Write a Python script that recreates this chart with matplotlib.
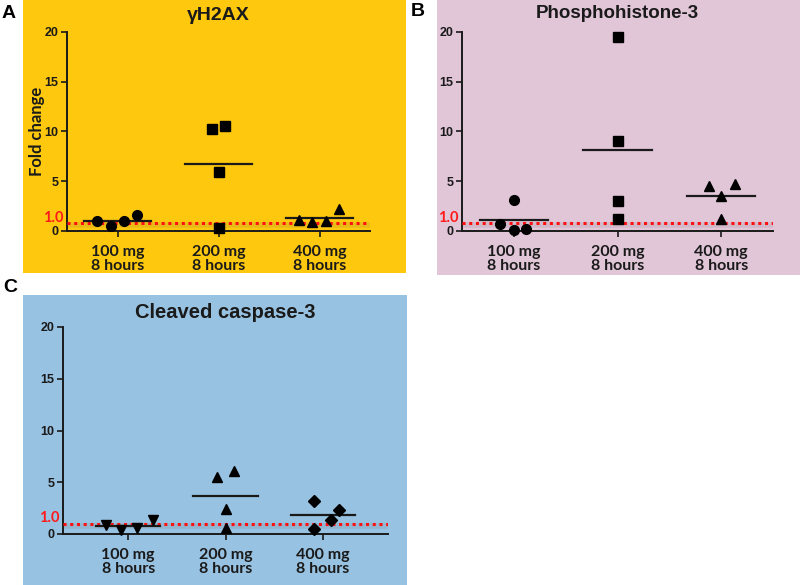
import matplotlib
matplotlib.use("Agg")
import matplotlib.pyplot as plt
from matplotlib.patches import Rectangle
import numpy as np

# ---------------- data ----------------
categories = ["100 mg\n8 hours", "200 mg\n8 hours", "400 mg\n8 hours"]
yticks = [0, 5, 10, 15, 20]

titles = ["γH2AX", "Phosphohistone-3", "Cleaved caspase-3"]
panel_letters = ["A", "B", "C"]

a_100 = [1.0, 0.5, 1.0, 1.6]
a_200 = [10.3, 10.55, 5.9, 0.35]
a_400 = [1.15, 0.95, 1.05, 2.2]

b_100 = [0.74, 3.15, 0.1, 0.25]
b_200 = [19.5, 9.0, 3.0, 1.25]
b_400 = [4.5, 3.5, 4.75, 1.25]

c_100 = [0.85, 0.35, 0.6, 1.4]
c_200 = [5.5, 6.1, 2.4, 0.6]
c_400 = [3.15, 1.38, 2.31, 0.48]

ref_label = "1.0"
ref_level = [0.85, 0.85, 1.0]

# horizontal jitter of the points (layout)
a_off = [[-0.2, -0.067, 0.06, 0.19], [-0.066, 0.066, 0, 0], [-0.2, -0.07, 0.063, 0.19]]
b_off = [[-0.135, 0, 0, 0.12], [0, 0, 0, 0], [-0.12, 0, 0.13, 0]]
c_off = [[-0.23, -0.07, 0.09, 0.26], [-0.09, 0.085, 0, 0], [-0.09, 0.085, 0.17, -0.09]]

# ---------------- style ----------------
W, H = 800, 585
fig = plt.figure(figsize=(8, 5.85), dpi=100)

bg_colors = ["#FEC80E", "#E1C6D8", "#98C2E1"]
bg_px = [(23, 0, 406, 273), (437, 0, 800, 275), (23, 295, 407, 585)]
ax_px = [(67, 32, 370, 231), (462, 32, 773, 231), (63, 327, 388, 534)]
xlims = [(-0.5, 2.5), (-0.5, 2.5), (-0.67, 2.67)]
markers = [["o", "s", "^"], ["o", "s", "^"], ["v", "^", "D"]]
msizes = {"o": 7, "s": 6.8, "^": 7.8, "v": 7.8, "D": 6.2}
letter_px = [(2, 14), (411, 12), (3, 287)]
title_y_px = [15, 13, 313]
title_sizes = [14, 13.5, 14.5]

panel_data = [[a_100, a_200, a_400], [b_100, b_200, b_400], [c_100, c_200, c_400]]
panel_off = [a_off, b_off, c_off]

dark = "#1a1a1a"
arial = ["Liberation Sans", "DejaVu Sans"]
cal = ["Lato", "DejaVu Sans"]

for i in range(3):
    x0, y0, x1, y1 = bg_px[i]
    fig.add_artist(Rectangle((x0 / W, 1 - y1 / H), (x1 - x0) / W, (y1 - y0) / H,
                             transform=fig.transFigure, facecolor=bg_colors[i],
                             edgecolor="none", zorder=0))
    l, t, r, b = ax_px[i]
    ax = fig.add_axes([l / W, 1 - b / H, (r - l) / W, (b - t) / H])
    ax.set_facecolor("none")
    ax.set_xlim(*xlims[i])
    ax.set_ylim(0, 20)
    for s in ["top", "right"]:
        ax.spines[s].set_visible(False)
    for s in ["left", "bottom"]:
        ax.spines[s].set_color(dark)
        ax.spines[s].set_linewidth(1.4)
    ax.set_yticks(yticks)
    ax.set_yticklabels([str(v) for v in yticks], fontfamily=arial,
                       fontweight="bold", fontsize=9, color=dark)
    ax.set_xticks(range(len(categories)))
    ax.set_xticklabels(categories, fontfamily=cal, fontweight="bold",
                       fontsize=11.5, color=dark, linespacing=1.0)
    ax.tick_params(axis="y", direction="out", length=4, width=1.2, color=dark, pad=2)
    ax.tick_params(axis="x", direction="out", length=4, width=1.2, color=dark, pad=6)

    # reference line with faint shadow
    lvl = ref_level[i]
    ax.plot(xlims[i], [lvl - 0.25, lvl - 0.25], color="#606060", lw=4, alpha=0.12,
            solid_capstyle="butt", zorder=2)
    ax.plot(xlims[i], [lvl, lvl], color="#FF1010", lw=2.2,
            linestyle=(0, (1, 1.2)), zorder=3)
    ax.text(-0.012, lvl + 0.5, ref_label, transform=ax.get_yaxis_transform(),
            ha="right", va="center", color="#FF1A1A", fontweight="bold",
            fontsize=10.5, fontfamily=cal)

    for j, vals in enumerate(panel_data[i]):
        xs = np.array(panel_off[i][j]) + j
        m = markers[i][j]
        ax.plot(xs, vals, linestyle="none", marker=m, ms=msizes[m],
                color="black", markeredgecolor="black", clip_on=False, zorder=5)
        mean = np.mean(vals)
        ax.plot([j - 0.33, j + 0.33], [mean, mean], color=dark, lw=1.6, zorder=4)

    cx = (l + r) / 2
    fig.text(cx / W, 1 - title_y_px[i] / H, titles[i], ha="center", va="center",
             fontfamily=arial, fontweight="bold", fontsize=title_sizes[i], color=dark)
    lx, ly = letter_px[i]
    fig.text(lx / W, 1 - ly / H, panel_letters[i], ha="left", va="center",
             fontfamily=arial, fontweight="bold", fontsize=14, color="black")

    if i == 0:
        ax.set_ylabel("Fold change", fontfamily=cal, fontweight="bold",
                      fontsize=12, color=dark, labelpad=0)

fig.savefig("out.png", dpi=100)
